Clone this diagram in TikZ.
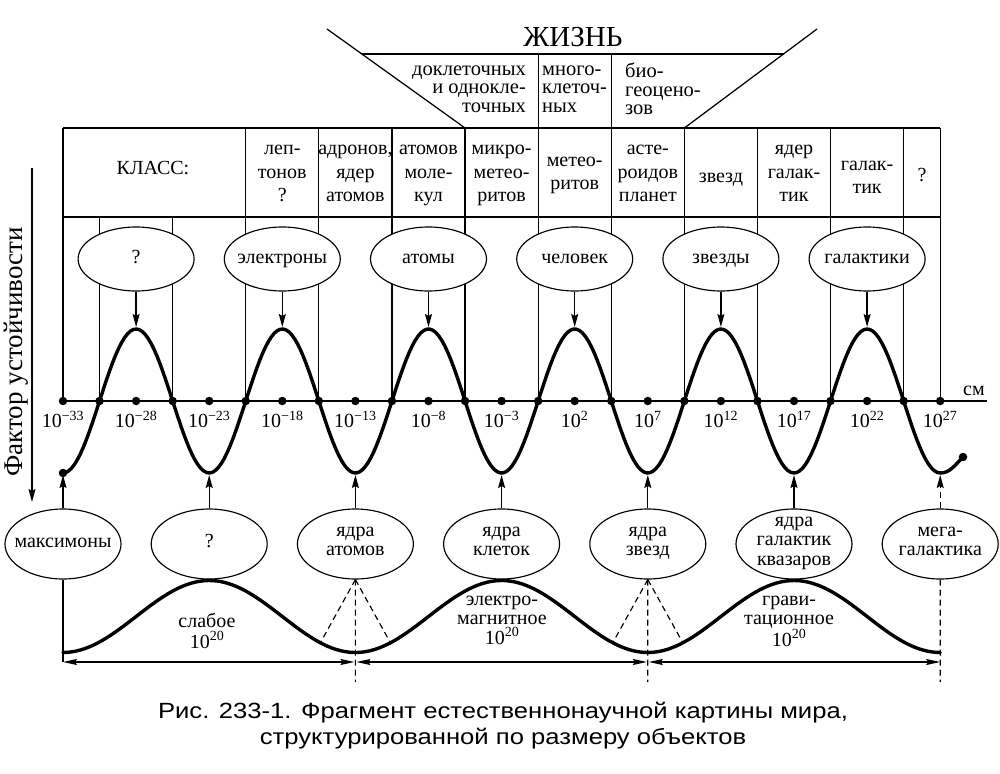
\documentclass[tikz,border=0pt]{standalone}
\usepackage{fontspec}
\setmainfont{Liberation Serif}
\newfontfamily\capfont{Liberation Sans}
\usetikzlibrary{arrows.meta,shapes.geometric}
\begin{document}
\begin{tikzpicture}[x=1pt,y=-1pt,
  ln/.style={line width=1.25pt},
  thk/.style={line width=3.4pt, line cap=round, line join=round},
  ell/.style={ellipse, draw, line width=1.15pt, fill=white, minimum width=116pt, minimum height=64pt, inner sep=0pt},
  ellb/.style={ell, minimum height=70pt},
  sn/.style={execute at begin node=\strut, execute at end node=\strut},
  txt/.style={font=\fontsize{20}{23.5}\selectfont, align=center, inner sep=0pt, sn},
  txtb/.style={font=\fontsize{20}{19.5}\selectfont, align=center, inner sep=0pt, sn},
  txts/.style={font=\fontsize{20.5}{18.5}\selectfont, inner sep=0pt},
  dotn/.style={circle, fill, inner sep=0pt, minimum size=8.5pt},
  arr/.style={ln, -{Stealth[length=13pt,width=7pt,inset=2pt]}},
  dar/.style={ln, {Stealth[length=14pt,width=6pt,inset=2pt]}-{Stealth[length=14pt,width=6pt,inset=2pt]}},
  dsh/.style={line width=1.15pt, dash pattern=on 6pt off 4pt},
]
\useasboundingbox[fill=white] (0,0) rectangle (1000,773);
\foreach \i in {0,...,24} \coordinate (d\i) at ({63+36.55*\i},401);

% table
\draw[ln] (63,128) -- (940.2,128);
\draw[ln] (63,217) -- (940.2,217);
\foreach \i in {0,5,7,9,11,13,15,17,19,21,23,24} \draw[ln] ({63+36.55*\i},128) -- (d\i);
\foreach \i in {1,3} \draw[ln] ({63+36.55*\i},217) -- (d\i);
% life trapezoid
\draw[ln] (327,29) -- (465.05,128);
\draw[ln] (817,29) -- (684.35,128);
\draw[ln] (361.9,54) -- (783.5,54);
\draw[ln] (538.15,54) -- (538.15,128);
\draw[ln] (611.25,54) -- (611.25,128);
\node[font=\fontsize{29}{30}\selectfont, inner sep=0pt] (life) at (573,37) {ЖИЗНЬ};
\node[txts, align=right, anchor=east] (l1) at (526,89) {доклеточных\\и однокле-\\точных};
\node[txts, align=left, anchor=west] (l2) at (542,89) {много-\\клеточ-\\ных};
\node[txts, align=left, anchor=west] (l3) at (625,89) {био-\\геоцено-\\зов};

% table cells
\node[txt] (c0) at (153,170) {КЛАСС:};
\node[txt] (c1) at (282.3,177) {леп-\\тонов\\?};
\node[txt] (c2) at (355.4,177) {адронов,\\ядер\\атомов};
\node[txt] (c3) at (428.5,177) {атомов\\моле-\\кул};
\node[txt] (c4) at (501.6,177) {микро-\\метео-\\ритов};
\node[txt] (c5) at (574.7,177) {метео-\\ритов};
\node[txt] (c6) at (647.8,177) {асте-\\роидов\\планет};
\node[txt] (c7) at (720.9,178) {звезд};
\node[txt] (c8) at (794,177) {ядер\\галак-\\тик};
\node[txt] (c9) at (867.1,181) {галак-\\тик};
\node[txt] (c10) at (922,177) {?};

% axis
\draw[ln] (d0) -- (987,401);
\node[txt] (cm) at (974,391) {см};
\foreach \i in {0,...,24} \node[dotn] (dn\i) at (d\i) {};
\foreach \i [evaluate=\i as \e using int(-33+5*\i/2)] in {0,2,...,24}
  \node[txt] (lab\i) at ({63+36.55*\i},423) {10\textsuperscript{\ifnum\e<0 −\the\numexpr-\e\relax\else\e\fi}};

% top curve
\draw[thk] plot[domain=63:940.2, samples=300] (\x, {401-72*sin(2.46238*(\x-99.55))})
  .. controls (950,473) and (955,465) .. (963,457);
\node[dotn] (s0) at (63,473) {};
\node[dotn] (s1) at (963,457) {};

% top ellipses
\foreach \k/\i/\t in {1/2/?, 2/6/электроны, 3/10/атомы, 4/14/человек, 5/18/звезды, 6/22/галактики} {
  \node[ell] (t\k) at ({63+36.55*\i},259) {};
  \node[txt] (tt\k) at (t\k) {\t};
  \coordinate (pk\k) at ({63+36.55*\i},327);
  \draw[arr] (t\k.south) -- (pk\k);
}

% bottom ellipses
\foreach \k/\i in {0/0,1/4,2/8,3/12,4/16,5/20,6/24} {
  \node[ellb] (b\k) at ({63+36.55*\i},544) {};
  \coordinate (tr\k) at ({63+36.55*\i},475);
}
\node[txtb] (bt0) at (b0) {максимоны};
\node[txtb] (bt1) at (b1) {?};
\node[txtb] (bt2) at (b2) {ядра\\атомов};
\node[txtb] (bt3) at (b3) {ядра\\клеток};
\node[txtb] (bt4) at (b4) {ядра\\звезд};
\node[txtb] (bt5) at (b5) {ядра\\галактик\\квазаров};
\node[txtb] (bt6) at (b6) {мега-\\галактика};
\foreach \k in {0,...,5} \draw[arr] (b\k.north) -- (tr\k);
\draw[arr, dash pattern=on 6pt off 4pt] (b6.north) -- (tr6);

% bottom curve
\draw[thk] plot[domain=63:940.2, samples=200] (\x, {616.5+36*cos(1.23119*(\x-63))});
\node[txtb, font=\fontsize{20}{21}\selectfont] (w1) at (207,634) {слабое\\10\textsuperscript{20}};
\node[txtb, font=\fontsize{20}{19.5}\selectfont] (w2) at (502,623) {электро-\\магнитное\\10\textsuperscript{20}};
\node[txtb, font=\fontsize{20}{19.5}\selectfont] (w3) at (789,624) {грави-\\тационное\\10\textsuperscript{20}};

% bottom lines
\coordinate (h0) at (63,662);
\coordinate (h1a) at (354.4,662);
\coordinate (h1b) at (356.4,662);
\coordinate (h2a) at (646.8,662);
\coordinate (h2b) at (648.8,662);
\coordinate (h3) at (940.2,662);
\draw[ln] (b0.south) -- (h0);
\draw[dar] (h0) -- (h1a);
\draw[dar] (h1b) -- (h2a);
\draw[dar] (h2b) -- (h3);
\draw[dsh] (b2.south) -- (355.4,682);
\draw[dsh] (b4.south) -- (647.8,682);
\draw[dsh] (b6.south) -- (940.2,682);
\draw[dsh] (b2.south) -- (320.4,642.7);
\draw[dsh] (b2.south) -- (390.4,642.7);
\draw[dsh] (b4.south) -- (612.8,642.7);
\draw[dsh] (b4.south) -- (682.8,642.7);

% left axis
\node[rotate=90, font=\fontsize{27}{28}\selectfont, inner sep=0pt] (fac) at (16,352) {Фактор устойчивости};
\coordinate (fa0) at (32,168);
\coordinate (fa1) at (32,502);
\draw[arr] (fa0) -- (fa1);

% caption
\node[font=\capfont\fontsize{22}{26}\selectfont, align=center, inner sep=0pt, xscale=1.165] (cap) at (503,726) {Рис. 233-1. Фрагмент естественнонаучной картины мира,\\структурированной по размеру объектов};
\end{tikzpicture}
\end{document}
